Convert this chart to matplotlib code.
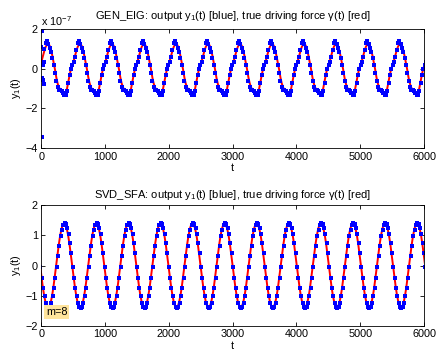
import numpy as np
import matplotlib
matplotlib.use("Agg")
import matplotlib.pyplot as plt

plt.rcParams['font.family'] = ['Liberation Sans', 'DejaVu Sans']
plt.rcParams['mathtext.fontset'] = 'custom'
plt.rcParams['mathtext.rm'] = 'Liberation Sans'
plt.rcParams['mathtext.it'] = 'Liberation Sans:italic'
plt.rcParams['font.size'] = 7.8

# one period (24 samples), starting at a trough, units of 1e-7
gen_period = 502.0
gen_start = -120.0
gen_blue_cycle = [-1.33, -1.10, -0.70, -0.30, 0.00, 0.20, 0.35, 0.60, 0.95, 1.30, 1.41, 1.25,
                  1.05, 0.85, 0.55, 0.20, -0.20, -0.60, -0.90, -1.05, -1.05, -1.10, -1.20, -1.30]
gen_red_cycle = [-1.20, -1.00, -0.65, -0.30, 0.00, 0.20, 0.40, 0.65, 0.90, 1.10, 1.22, 1.28,
                 1.15, 0.95, 0.65, 0.30, -0.05, -0.45, -0.75, -0.95, -1.05, -1.12, -1.20, -1.25]
# transient at the very start of the GEN_EIG output
gen_trans_t = [2, 10, 14, 18, 24, 30, 36, 42, 48]
gen_trans_y = [1.10, -0.45, 1.92, -3.46, -0.55, 0.20, -0.77, 0.35, 1.00]

# SVD_SFA, one period starting at a falling zero crossing
svd_period = 503.0
svd_start = -19.0
svd_blue_shift = 6.0
svd_red_cycle = [0.00, -0.36, -0.70, -0.99, -1.21, -1.35, -1.40, -1.35, -1.21, -0.99, -0.70, -0.36,
                 0.00, 0.36, 0.70, 0.99, 1.21, 1.35, 1.40, 1.35, 1.21, 0.99, 0.70, 0.36]
svd_blue_cycle = [-0.05, -0.40, -0.74, -1.02, -1.24, -1.37, -1.42, -1.37, -1.24, -1.02, -0.74, -0.40,
                  -0.05, 0.32, 0.66, 0.96, 1.19, 1.34, 1.42, 1.38, 1.25, 1.04, 0.76, 0.42]
n_cycles = 13

xticks = [0, 1000, 2000, 3000, 4000, 5000, 6000]


def series(start, period, cycle):
    n = len(cycle)
    t = start + np.arange(n * n_cycles) * period / n
    return t, np.tile(cycle, n_cycles)


fig = plt.figure(figsize=(4.41, 3.56), dpi=100)
ax1 = fig.add_axes([0.0937, 0.584, 0.8678, 0.3345])
ax2 = fig.add_axes([0.0937, 0.0843, 0.8678, 0.3397])

# top panel
t_r, y_r = series(gen_start, gen_period, gen_red_cycle)
t_b, y_b = series(gen_start, gen_period, gen_blue_cycle)
keep = t_b > 55
ax1.plot(t_r, y_r * 1e-7, 'r-', lw=1.4)
ax1.plot(t_b[keep], y_b[keep] * 1e-7, 'bs', ms=2.3, mew=0)
ax1.plot(gen_trans_t, np.array(gen_trans_y) * 1e-7, 'bs', ms=2.3, mew=0)
ax1.set_ylim(-4e-7, 2e-7)
ax1.set_yticks([-4e-7, -2e-7, 0, 2e-7])
ax1.set_yticklabels(['\u22124', '\u22122', '0', '2'])
ax1.text(0.0, 1.012, 'x 10$^{-7}$', transform=ax1.transAxes, ha='left', va='bottom')
ax1.set_title('GEN_EIG: output y$_1$(t) [blue], true driving force \u03b3(t) [red]',
              fontsize=8.0, pad=7)

# bottom panel
t_r, y_r = series(svd_start, svd_period, svd_red_cycle)
t_b, y_b = series(svd_start + svd_blue_shift, svd_period, svd_blue_cycle)
ax2.plot(t_r, y_r, 'r-', lw=1.4)
ax2.plot(t_b, y_b, 'bs', ms=2.3, mew=0)
ax2.set_ylim(-2, 2)
ax2.set_yticks([-2, -1, 0, 1, 2])
ax2.set_yticklabels(['\u22122', '\u22121', '0', '1', '2'])
ax2.set_title('SVD_SFA: output y$_1$(t) [blue], true driving force \u03b3(t) [red]',
              fontsize=8.0, pad=5)
ax2.text(0.012, 0.075, 'm=8', transform=ax2.transAxes, ha='left', va='bottom',
         bbox=dict(boxstyle='square,pad=0.15', fc='#ffe49c', ec='none'))

for ax in (ax1, ax2):
    ax.set_xlim(0, 6000)
    ax.set_xticks(xticks)
    ax.set_xlabel('t', labelpad=1)
    ax.set_ylabel('y$_1$(t)', labelpad=2)
    ax.tick_params(direction='in', top=True, right=True, length=3, width=0.6, pad=2.5)
    for s in ax.spines.values():
        s.set_linewidth(0.6)

fig.savefig('out.png', dpi=100)
